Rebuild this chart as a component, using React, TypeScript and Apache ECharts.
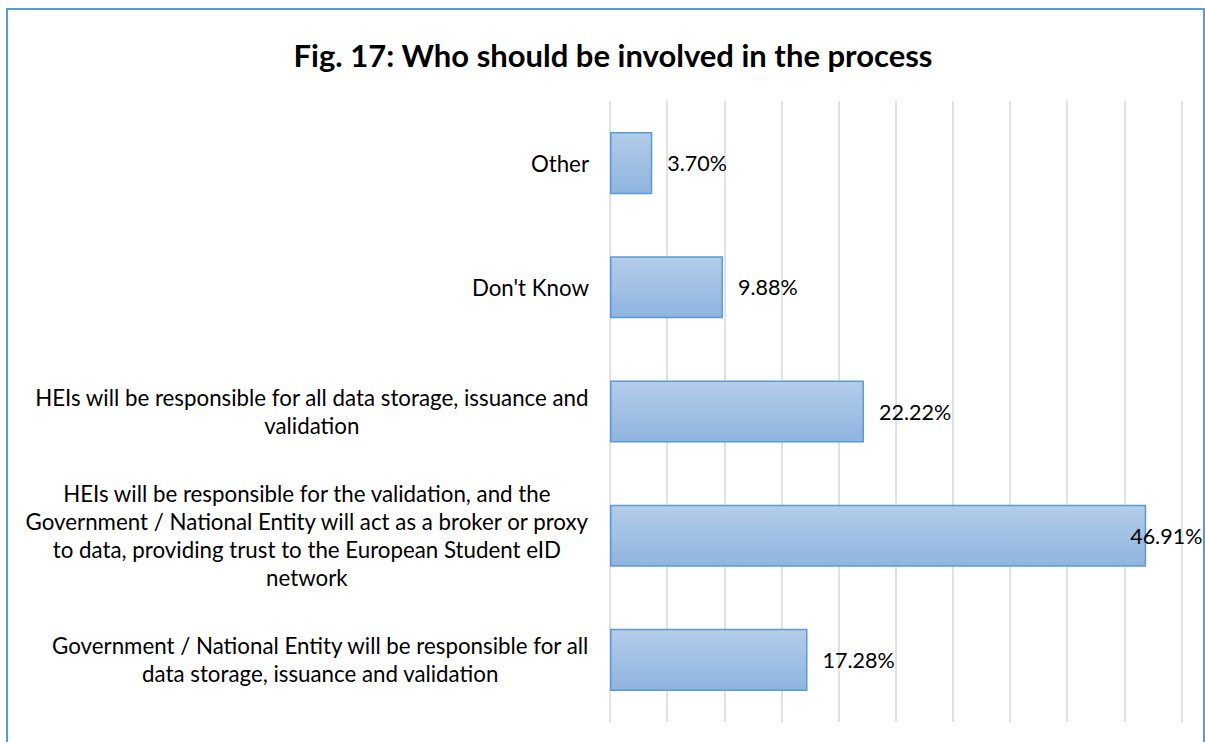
import React, { useEffect, useRef } from "react";
import * as echarts from "echarts";

const TITLE = "Fig. 17: Who should be involved in the process";

// bottom-to-top order (ECharts category y axis starts at the bottom)
const categories = [
  "Government / National Entity will be responsible for all\ndata storage, issuance and validation",
  "HEIs will be responsible for the validation, and the\nGovernment / National Entity will act as a broker or proxy\nto data, providing trust to the European Student eID\nnetwork",
  "HEIs will be responsible for all data storage, issuance and\nvalidation",
  "Don't Know",
  "Other",
];
const values = [17.28, 46.91, 22.22, 9.88, 3.7];

const FONT = "Lato";

export default function App() {
  const ref = useRef<HTMLDivElement>(null);
  useEffect(() => {
    if (!ref.current) return;
    const chart = echarts.init(ref.current, null, { renderer: "svg" });
    chart.setOption({
      animation: false,
      backgroundColor: "#ffffff",
      title: {
        text: TITLE,
        left: 608,
        textAlign: "center",
        top: 34,
        textStyle: { fontFamily: FONT, fontWeight: "bold", fontSize: 31, color: "#000" },
      },
      graphic: [
        {
          type: "rect",
          shape: { x: 7, y: 9, width: 1197, height: 745 },
          style: { fill: "none", stroke: "#5B9BD5", lineWidth: 2 },
          silent: true,
        },
      ],
      grid: { left: 610, right: 23.5, top: 101, bottom: 20, containLabel: false },
      xAxis: {
        type: "value",
        min: 0,
        max: 50,
        interval: 5,
        axisLabel: { show: false },
        axisLine: { show: false },
        axisTick: { show: false },
        splitLine: { show: true, lineStyle: { color: "#D9D9D9", width: 1.5 } },
      },
      yAxis: {
        type: "category",
        data: categories,
        axisLine: { show: false },
        axisTick: { show: false },
        axisLabel: {
          margin: 21,
          formatter: (v: string) =>
            v
              .split("\n")
              .map((l) => `{a|${l}}`)
              .join("\n"),
          rich: {
            a: {
              fontFamily: FONT,
              fontSize: 22.3,
              lineHeight: 28,
              color: "#000",
              align: "center",
            },
          },
        },
      },
      series: [
        {
          type: "bar",
          data: values.map((v) =>
            v > 40
              ? { value: v, label: { offset: [-31, 0] } }
              : { value: v }
          ),
          barCategoryGap: "50%",
          itemStyle: {
            color: new echarts.graphic.LinearGradient(0, 0, 0, 1, [
              { offset: 0, color: "#B3CDEA" },
              { offset: 1, color: "#8FB4DF" },
            ]),
            borderColor: "#5B9BD5",
            borderWidth: 1.5,
          },
          label: {
            show: true,
            position: "right",
            distance: 15,
            formatter: (p: any) => p.value.toFixed(2) + "%",
            fontFamily: FONT,
            fontSize: 21.5,
            color: "#000",
          },
        },
      ],
    });
    return () => chart.dispose();
  }, []);
  return (
    <div
      ref={ref}
      style={{ position: "fixed", left: 0, top: 0, width: 1205, height: 742 }}
    />
  );
}
